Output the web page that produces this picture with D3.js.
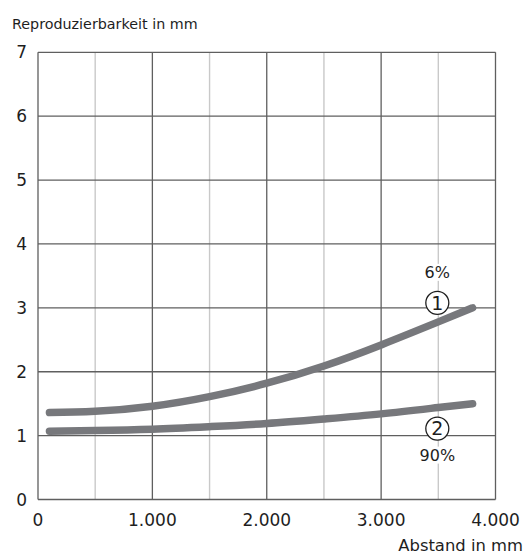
<!DOCTYPE html>
<html>
<head>
<meta charset="utf-8">
<script src="https://cdn.jsdelivr.net/npm/d3@7"></script>
<style>
  html, body { margin: 0; padding: 0; background: #fff; }
  svg { display: block; font-family: "DejaVu Sans", sans-serif; }
</style>
</head>
<body>
<svg id="chart" width="528" height="556"></svg>
<script>
// ---- data ----
const distances = [100, 500, 1000, 1500, 2000, 2500, 3000, 3500, 3800];
const series6 = [1.36, 1.38, 1.46, 1.61, 1.82, 2.09, 2.42, 2.78, 3.0];
const series90 = [1.07, 1.08, 1.10, 1.14, 1.19, 1.26, 1.34, 1.44, 1.5];
const xMajorTicks = [0, 1000, 2000, 3000, 4000];
const xMinorTicks = [500, 1500, 2500, 3500];
const yTicks = [0, 1, 2, 3, 4, 5, 6, 7];
const yTitle = "Reproduzierbarkeit in mm";
const xTitle = "Abstand in mm";
const seriesLabels = [
  { num: "1", pct: "6%", x: 3500, y: 3, pctAbove: true },
  { num: "2", pct: "90%", x: 3500, y: 1, pctAbove: false }
];

// ---- layout ----
const svg = d3.select("#chart");
const mLeft = 38, mRight = 495.5, mTop = 52.3, mBottom = 499.5;
const x = d3.scaleLinear().domain([0, 4000]).range([mLeft, mRight]);
const y = d3.scaleLinear().domain([0, 7]).range([mBottom, mTop]);
const locale = d3.formatLocale({ decimal: ",", thousands: ".", grouping: [3], currency: ["", "€"] });
const fmt = locale.format(",d");

const majorColor = "#5f5f5f";
const minorColor = "#c9c9c9";
const lineColor = "#77787c";
const textColor = "#1e1e1e";

// minor vertical grid
svg.append("g").selectAll("line").data(xMinorTicks).join("line")
  .attr("x1", d => x(d)).attr("x2", d => x(d))
  .attr("y1", y(0)).attr("y2", y(7))
  .attr("stroke", minorColor).attr("stroke-width", 1.4);

// major vertical grid
svg.append("g").selectAll("line").data(xMajorTicks).join("line")
  .attr("x1", d => x(d)).attr("x2", d => x(d))
  .attr("y1", y(0)).attr("y2", y(7))
  .attr("stroke", majorColor).attr("stroke-width", 1.3);

// horizontal grid
svg.append("g").selectAll("line").data(yTicks).join("line")
  .attr("x1", x(0)).attr("x2", x(4000))
  .attr("y1", d => y(d)).attr("y2", d => y(d))
  .attr("stroke", majorColor).attr("stroke-width", 1.3);

// labels with white background
const lblG = svg.append("g");
seriesLabels.forEach(l => {
  const cx = x(l.x) - 1;
  const cy = l.pctAbove ? y(l.y) - 5 : y(l.y) - 7;
  const pctY = l.pctAbove ? cy - 25 : cy + 32;
  const pctText = lblG.append("text")
    .attr("x", cx).attr("y", pctY)
    .attr("text-anchor", "middle")
    .attr("font-size", 16).attr("fill", textColor)
    .text(l.pct);
  const bb = pctText.node().getBBox();
  lblG.insert("rect", "text")
    .attr("x", bb.x - 2).attr("y", bb.y + 1)
    .attr("width", bb.width + 4).attr("height", bb.height - 2)
    .attr("fill", "#fff");
  lblG.append("circle")
    .attr("cx", cx).attr("cy", cy).attr("r", 11.5)
    .attr("fill", "#fff").attr("stroke", textColor).attr("stroke-width", 1.3);
  lblG.append("text")
    .attr("x", cx).attr("y", cy + 6.8)
    .attr("text-anchor", "middle")
    .attr("font-size", 19).attr("fill", textColor)
    .text(l.num);
});

// curves
const line = d3.line()
  .x((d, i) => x(distances[i]))
  .y(d => y(d))
  .curve(d3.curveNatural);
[series6, series90].forEach(s => {
  svg.append("path")
    .attr("d", line(s))
    .attr("fill", "none")
    .attr("stroke", lineColor)
    .attr("stroke-width", 7.5)
    .attr("stroke-linecap", "round");
});

// y tick labels
svg.append("g").selectAll("text").data(yTicks).join("text")
  .attr("x", 27).attr("y", d => y(d))
  .attr("dy", "0.36em")
  .attr("text-anchor", "end")
  .attr("font-size", 17).attr("fill", textColor)
  .text(d => d);

// x tick labels
svg.append("g").selectAll("text").data(xMajorTicks).join("text")
  .attr("x", d => x(d)).attr("y", 526)
  .attr("text-anchor", "middle")
  .attr("font-size", 17).attr("fill", textColor)
  .text(d => fmt(d));

// axis titles
svg.append("text")
  .attr("x", 12).attr("y", 29)
  .attr("font-size", 14.3).attr("fill", textColor)
  .text(yTitle);
svg.append("text")
  .attr("x", 523).attr("y", 551)
  .attr("text-anchor", "end")
  .attr("font-size", 16.4).attr("fill", textColor)
  .text(xTitle);
</script>
</body>
</html>
